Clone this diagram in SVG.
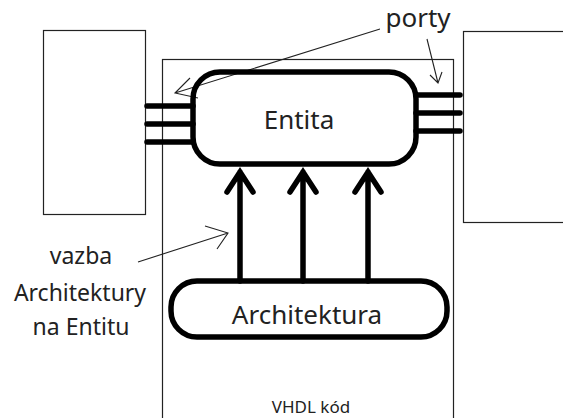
<svg xmlns="http://www.w3.org/2000/svg" width="563" height="418" viewBox="0 0 563 418">
<style>
.box{fill:none;stroke:#222;stroke-width:1.2}
.thick{fill:none;stroke:#000;stroke-width:5.5}
.port{stroke:#000;stroke-width:5.5;stroke-linecap:round}
.thin{fill:none;stroke:#222;stroke-width:1.1}
text{font-family:"Noto Sans","Open Sans",sans-serif;fill:#222;text-anchor:middle}
</style>
<rect width="563" height="418" fill="#fff"/>
<g id="vhdl">
<rect class="box" x="162.5" y="59.5" width="291" height="370"/>
<text x="311" y="413" font-size="17">VHDL kód</text>
</g>
<g id="leftbox"><rect class="box" x="43.5" y="30.5" width="102" height="184"/></g>
<g id="rightbox"><rect class="box" x="463.5" y="31.5" width="110" height="191"/></g>
<g id="connectors">
<line class="port" x1="147" y1="106" x2="193" y2="106"/>
<line class="port" x1="147" y1="124" x2="193" y2="124"/>
<line class="port" x1="147" y1="142" x2="193" y2="142"/>
<line class="port" x1="416" y1="95" x2="460" y2="95"/>
<line class="port" x1="416" y1="113" x2="460" y2="113"/>
<line class="port" x1="416" y1="131" x2="460" y2="131"/>
<g class="port" fill="none">
<path d="M240 172V281M227 192L240 172L253 192"/>
<path d="M303 172V281M290 192L303 172L316 192"/>
<path d="M368 172V281M355 192L368 172L381 192"/>
</g>
<path class="thin" d="M380 29L175 93M190 78L175 93L198 98"/>
<path class="thin" d="M427 39L438 83M430 75L438 83L442 72"/>
<path class="thin" d="M138 262L228 233M205 226L228 233L217 249"/>
</g>
<g id="entita">
<rect class="thick" x="193" y="72" width="223" height="92" rx="27"/>
<text x="299" y="129" font-size="26">Entita</text>
</g>
<g id="architektura">
<rect class="thick" x="171" y="281" width="276" height="56" rx="26"/>
<text x="307" y="324" font-size="26">Architektura</text>
</g>
<g id="labels">
<text x="418" y="27" font-size="26">porty</text>
<text x="81" y="264" font-size="23">vazba</text>
<text x="80" y="301" font-size="23">Architektury</text>
<text x="81" y="335" font-size="23">na Entitu</text>
</g>
</svg>
